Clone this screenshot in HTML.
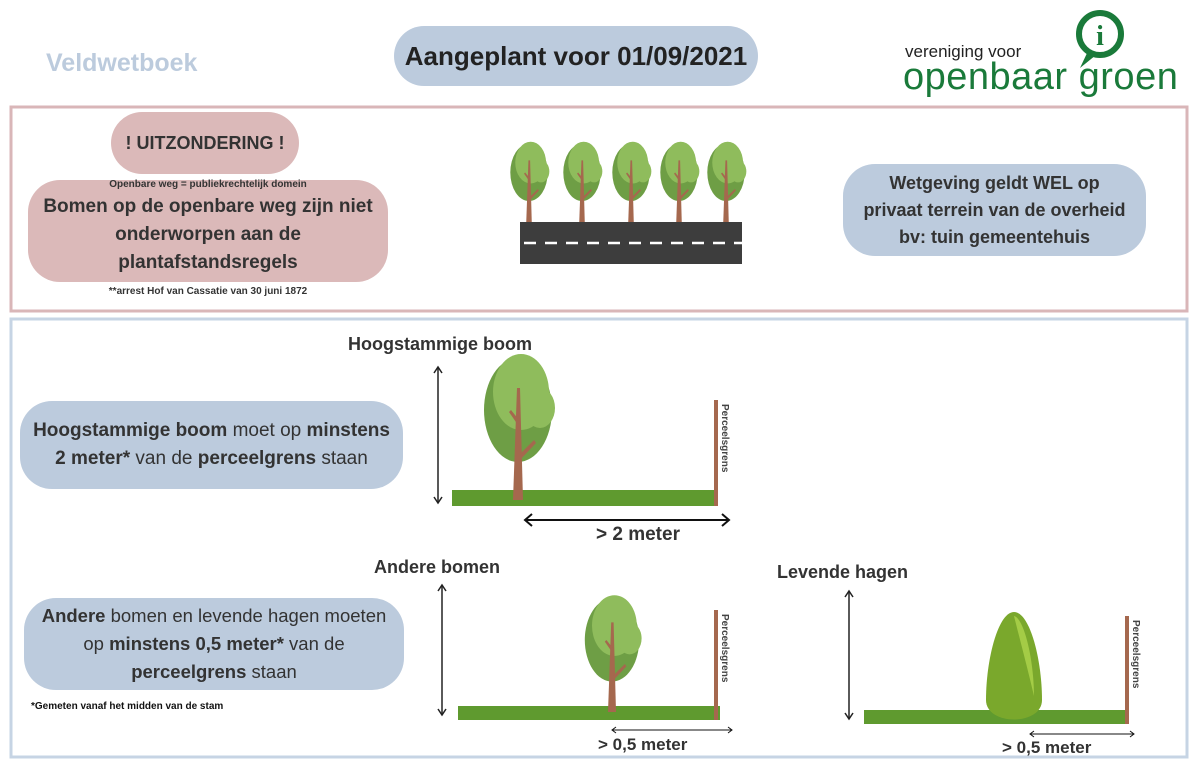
<!DOCTYPE html>
<html><head><meta charset="utf-8"><style>
body{margin:0;width:1200px;height:768px;background:#fff;position:relative;overflow:hidden;font-family:"Liberation Sans",sans-serif;color:#333}
.a{position:absolute}
.pill{position:absolute;border-radius:32px;text-align:center;display:flex;align-items:center;justify-content:center;font-weight:bold}
.pink{background:#dbb9b9}
.blue{background:#bccbdd}
.b{font-weight:bold}
</style></head><body>
<div class="a b" style="left:46px;top:49px;font-size:25px;color:#bccbdd">Veldwetboek</div>
<div class="pill blue" style="left:394px;top:26px;width:364px;height:60px;font-size:26px;color:#222">Aangeplant voor 01/09/2021</div>
<div class="a" style="left:905px;top:42px;font-size:17px;color:#222">vereniging voor</div>
<div class="a" style="left:903px;top:56px;font-size:38px;color:#1a7a3a;letter-spacing:0.5px">openbaar groen</div>
<svg class="a" style="left:0;top:0" width="1200" height="768">
<circle cx="1100" cy="34" r="21" fill="#fff" stroke="#1a7a3a" stroke-width="6"/>
<path d="M1088 51 L1080 68 L1096 55" fill="#1a7a3a"/>
<text x="1100" y="45" font-family="Liberation Serif" font-weight="bold" font-size="28" fill="#1a7a3a" text-anchor="middle">i</text>
<rect x="11" y="107" width="1176" height="204" fill="none" stroke="#d9b6b8" stroke-width="3"/>
<rect x="11" y="319" width="1176" height="438" fill="none" stroke="#c6d4e4" stroke-width="3"/>
<defs>
<g id="tr">
<ellipse cx="0" cy="-90" rx="34" ry="52" fill="#6e9e45"/>
<ellipse cx="3" cy="-108" rx="28" ry="38" fill="#8fbc5c"/>
<ellipse cx="22" cy="-92" rx="15" ry="20" fill="#8fbc5c"/>
<path d="M-5 0 L5 0 L2 -112 L-1 -112Z" fill="#a5684e"/>
<path d="M1 -45 L16 -60 L18 -57 L2 -40Z" fill="#a5684e"/>
<path d="M0 -75 L-9 -88 L-7 -90 L1 -80Z" fill="#a5684e"/>
</g>
</defs>
<rect x="520" y="222" width="222" height="42" fill="#3d3d3d"/>
<line x1="524" y1="243" x2="742" y2="243" stroke="#fff" stroke-width="2.5" stroke-dasharray="12,9"/>
<use href="#tr" transform="translate(529,222) scale(0.55)"/>
<use href="#tr" transform="translate(582,222) scale(0.55)"/>
<use href="#tr" transform="translate(631,222) scale(0.55)"/>
<use href="#tr" transform="translate(679,222) scale(0.55)"/>
<use href="#tr" transform="translate(726,222) scale(0.55)"/>
<!-- high tree -->
<line x1="438" y1="368" x2="438" y2="502" stroke="#222" stroke-width="1.5"/>
<path d="M434 373 L438 367 L442 373 M434 497 L438 503 L442 497" stroke="#222" fill="none" stroke-width="1.5"/>
<rect x="452" y="490" width="262" height="16" fill="#5f9a2f"/>
<use href="#tr" transform="translate(518,500) scale(1)"/>
<rect x="714" y="400" width="4" height="106" fill="#a5684e"/>
<text transform="translate(722,404) rotate(90)" font-size="10" font-weight="bold" fill="#444">Perceelsgrens</text>
<line x1="526" y1="520" x2="728" y2="520" stroke="#111" stroke-width="2"/>
<path d="M532 514 L525 520 L532 526 M722 514 L729 520 L722 526" stroke="#111" fill="none" stroke-width="2"/>
<!-- andere bomen -->
<line x1="442" y1="586" x2="442" y2="714" stroke="#222" stroke-width="1.5"/>
<path d="M438 591 L442 585 L446 591 M438 709 L442 715 L446 709" stroke="#222" fill="none" stroke-width="1.5"/>
<rect x="458" y="706" width="262" height="14" fill="#5f9a2f"/>
<use href="#tr" transform="translate(612,712) scale(0.8)"/>
<rect x="714" y="610" width="4" height="110" fill="#a5684e"/>
<text transform="translate(722,614) rotate(90)" font-size="10" font-weight="bold" fill="#444">Perceelsgrens</text>
<line x1="612" y1="730" x2="732" y2="730" stroke="#111" stroke-width="1"/>
<path d="M616 727 L612 730 L616 733 M728 727 L732 730 L728 733" stroke="#111" fill="none"/>
<!-- hagen -->
<line x1="849" y1="592" x2="849" y2="718" stroke="#222" stroke-width="1.5"/>
<path d="M845 597 L849 591 L853 597 M845 713 L849 719 L853 713" stroke="#222" fill="none" stroke-width="1.5"/>
<rect x="864" y="710" width="262" height="14" fill="#5f9a2f"/>
<path d="M1014 612 C1030 612 1042 660 1042 700 C1042 726 986 726 986 700 C986 660 998 612 1014 612Z" fill="#7aa82c"/>
<path d="M1014 616 C1024 618 1034 660 1034 696 C1028 670 1020 640 1014 616Z" fill="#a4cc46"/>
<rect x="1125" y="616" width="4" height="108" fill="#a5684e"/>
<text transform="translate(1133,620) rotate(90)" font-size="10" font-weight="bold" fill="#444">Perceelsgrens</text>
<line x1="1030" y1="734" x2="1134" y2="734" stroke="#111" stroke-width="1"/>
<path d="M1034 731 L1030 734 L1034 737 M1130 731 L1134 734 L1130 737" stroke="#111" fill="none"/>
</svg>
<div class="pill pink" style="left:111px;top:112px;width:188px;height:62px;font-size:18px">! UITZONDERING !</div>
<div class="pill pink" style="left:28px;top:180px;width:360px;height:102px;font-size:19px;line-height:28px;padding-top:8px;box-sizing:border-box">Bomen op de openbare weg zijn niet<br>onderworpen aan de<br>plantafstandsregels</div>
<div class="a b" style="left:28px;top:179px;width:360px;text-align:center;font-size:10px">Openbare weg = publiekrechtelijk domein</div>
<div class="a b" style="left:28px;top:286px;width:360px;text-align:center;font-size:10px">**arrest Hof van Cassatie van 30 juni 1872</div>
<div class="pill blue" style="left:843px;top:164px;width:303px;height:92px;font-size:18px;line-height:27px">Wetgeving geldt WEL op<br>privaat terrein van de overheid<br>bv: tuin gemeentehuis</div>
<div class="a b" style="left:348px;top:334px;font-size:18px">Hoogstammige boom</div>
<div class="pill blue" style="left:20px;top:401px;width:383px;height:88px;font-weight:normal;font-size:19px;line-height:28px"><div><b>Hoogstammige boom</b> moet op <b>minstens<br>2 meter*</b> van de <b>perceelgrens</b> staan</div></div>
<div class="a b" style="left:596px;top:524px;font-size:19px">&gt; 2 meter</div>
<div class="a b" style="left:374px;top:557px;font-size:18px">Andere bomen</div>
<div class="a b" style="left:777px;top:562px;font-size:18px">Levende hagen</div>
<div class="pill blue" style="left:24px;top:598px;width:380px;height:92px;font-weight:normal;font-size:18.5px;line-height:28px"><div><b>Andere</b> bomen en levende hagen moeten<br>op <b>minstens 0,5 meter*</b> van de<br><b>perceelgrens</b> staan</div></div>
<div class="a b" style="left:31px;top:701px;font-size:10px;color:#111">*Gemeten vanaf het midden van de stam</div>
<div class="a b" style="left:598px;top:735px;font-size:17px">&gt; 0,5 meter</div>
<div class="a b" style="left:1002px;top:738px;font-size:17px">&gt; 0,5 meter</div>
</body></html>
